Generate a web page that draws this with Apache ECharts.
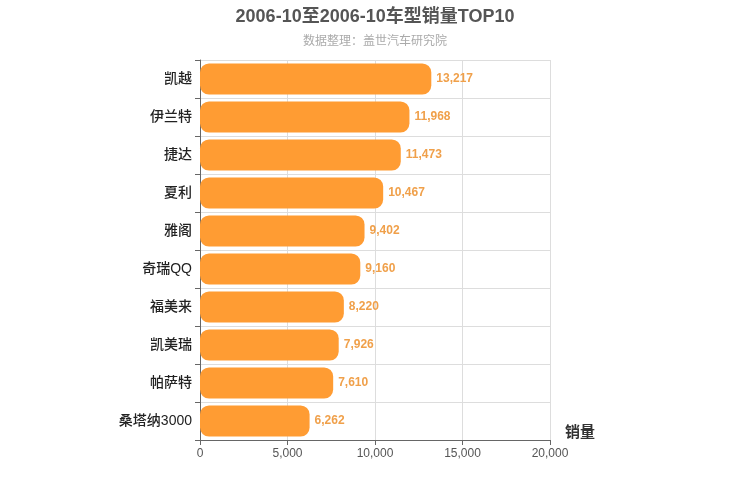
<!DOCTYPE html>
<html>
<head>
<meta charset="utf-8">
<script src="https://cdn.jsdelivr.net/npm/echarts@6/dist/echarts.min.js"></script>
<style>html,body{margin:0;padding:0;background:#fff;}#main{width:750px;height:500px;}</style>
</head>
<body>
<div id="main"></div>
<script>
// 车型与销量（从上到下）
var models = ['凯越', '伊兰特', '捷达', '夏利', '雅阁', '奇瑞QQ', '福美来', '凯美瑞', '帕萨特', '桑塔纳3000'];
var sales = [13217, 11968, 11473, 10467, 9402, 9160, 8220, 7926, 7610, 6262];
var xTicks = [0, 20000, 5000];

var FONT = 'Liberation Sans, Noto Sans CJK SC, sans-serif';

var myChart = echarts.init(document.getElementById('main'));

var option = {
    backgroundColor: '#fff',
    textStyle: { fontFamily: FONT },
    title: {
        text: '2006-10至2006-10车型销量TOP10',
        subtext: '数据整理：盖世汽车研究院',
        left: 'center',
        top: 3,
        itemGap: 10,
        textStyle: {
            fontSize: 18,
            fontWeight: 'bold',
            color: '#555',
            fontFamily: FONT
        },
        subtextStyle: {
            fontSize: 12,
            color: '#aaa',
            fontFamily: FONT
        }
    },
    grid: {
        left: 200,
        right: 200,
        top: 60,
        bottom: 60
    },
    xAxis: {
        type: 'value',
        min: xTicks[0],
        max: xTicks[1],
        interval: xTicks[2],
        name: '销量',
        nameLocation: 'end',
        nameGap: 15,
        nameTextStyle: {
            fontSize: 15,
            fontWeight: 'bold',
            color: '#333',
            verticalAlign: 'bottom',
            fontFamily: FONT
        },
        axisLine: { show: true, lineStyle: { color: '#666' } },
        axisTick: { show: true, lineStyle: { color: '#666' } },
        axisLabel: { color: '#555', fontSize: 12, fontFamily: FONT },
        splitLine: { show: true, lineStyle: { color: '#ddd' } }
    },
    yAxis: {
        type: 'category',
        data: models,
        inverse: true,
        axisLine: { show: true, lineStyle: { color: '#666' } },
        axisTick: { show: true, lineStyle: { color: '#666' } },
        axisLabel: {
            color: '#222',
            fontSize: 14,
            fontWeight: 500,
            margin: 8,
            fontFamily: FONT
        },
        splitLine: { show: true, lineStyle: { color: '#ddd' } }
    },
    series: [
        {
            name: '销量',
            type: 'bar',
            data: sales,
            barCategoryGap: '18%',
            itemStyle: {
                color: '#ff9c33',
                borderRadius: 9
            },
            label: {
                show: true,
                position: 'right',
                color: '#f0a04a',
                fontWeight: 'bold',
                fontSize: 12,
                fontFamily: FONT,
                formatter: function (p) {
                    return p.value.toLocaleString('en-US');
                }
            }
        }
    ]
};

myChart.setOption(option);
</script>
</body>
</html>
